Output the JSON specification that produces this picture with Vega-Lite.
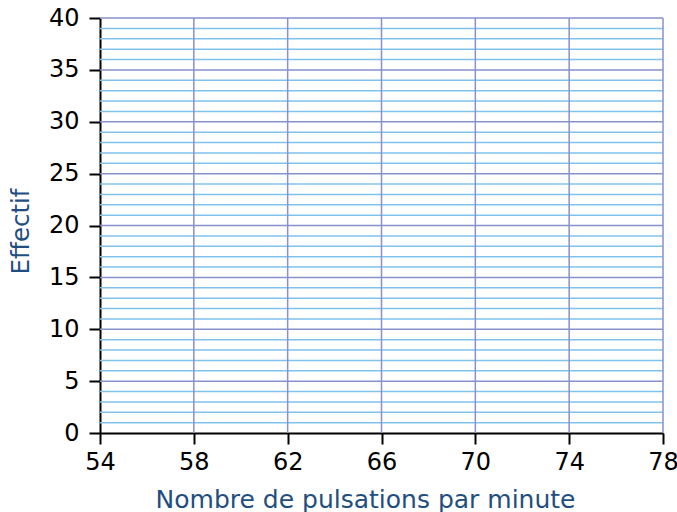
{
  "$schema": "https://vega.github.io/schema/vega-lite/v6.json",
  "width": 563,
  "height": 415,
  "autosize": "none",
  "padding": {"left": 100, "top": 18, "right": 14, "bottom": 79},
  "background": "white",
  "config": {
    "view": {"stroke": null},
    "font": "DejaVu Sans",
    "axis": {
      "labelFont": "DejaVu Sans",
      "labelFontSize": 24,
      "labelColor": "black",
      "labelFlush": false,
      "domainColor": "black",
      "domainWidth": 2,
      "tickColor": "black",
      "tickWidth": 2,
      "tickSize": 11,
      "grid": false,
      "titleFont": "DejaVu Sans",
      "titleFontWeight": "normal",
      "titleColor": "#1f4e80",
      "zindex": 1
    }
  },
  "layer": [
    {
      "data": {"values": [
        {"y": 1, "kind": "minor"}, {"y": 2, "kind": "minor"}, {"y": 3, "kind": "minor"}, {"y": 4, "kind": "minor"},
        {"y": 5, "kind": "major"},
        {"y": 6, "kind": "minor"}, {"y": 7, "kind": "minor"}, {"y": 8, "kind": "minor"}, {"y": 9, "kind": "minor"},
        {"y": 10, "kind": "major"},
        {"y": 11, "kind": "minor"}, {"y": 12, "kind": "minor"}, {"y": 13, "kind": "minor"}, {"y": 14, "kind": "minor"},
        {"y": 15, "kind": "major"},
        {"y": 16, "kind": "minor"}, {"y": 17, "kind": "minor"}, {"y": 18, "kind": "minor"}, {"y": 19, "kind": "minor"},
        {"y": 20, "kind": "major"},
        {"y": 21, "kind": "minor"}, {"y": 22, "kind": "minor"}, {"y": 23, "kind": "minor"}, {"y": 24, "kind": "minor"},
        {"y": 25, "kind": "major"},
        {"y": 26, "kind": "minor"}, {"y": 27, "kind": "minor"}, {"y": 28, "kind": "minor"}, {"y": 29, "kind": "minor"},
        {"y": 30, "kind": "major"},
        {"y": 31, "kind": "minor"}, {"y": 32, "kind": "minor"}, {"y": 33, "kind": "minor"}, {"y": 34, "kind": "minor"},
        {"y": 35, "kind": "major"},
        {"y": 36, "kind": "minor"}, {"y": 37, "kind": "minor"}, {"y": 38, "kind": "minor"}, {"y": 39, "kind": "minor"},
        {"y": 40, "kind": "major"}
      ]},
      "mark": {"type": "rule", "strokeWidth": 1.5},
      "encoding": {
        "y": {
          "field": "y",
          "type": "quantitative",
          "scale": {"domain": [0, 40], "nice": false, "zero": true},
          "axis": {
            "values": [0, 5, 10, 15, 20, 25, 30, 35, 40],
            "labelPadding": 10,
            "title": "Effectif",
            "titleFontSize": 24.5,
            "titleAngle": -90,
            "titleX": -72,
            "titleY": 213,
            "titleAnchor": "middle",
            "titleBaseline": "alphabetic",
            "titleAlign": "center"
          }
        },
        "x": {
          "datum": 54,
          "type": "quantitative",
          "scale": {"domain": [54, 78], "nice": false, "zero": false},
          "axis": {
            "values": [54, 58, 62, 66, 70, 74, 78],
            "labelPadding": 6,
            "title": "Nombre de pulsations par minute",
            "titleFontSize": 25,
            "titleX": 265,
            "titleY": 74,
            "titleAnchor": "middle",
            "titleAlign": "center",
            "titleBaseline": "alphabetic"
          }
        },
        "x2": {"datum": 78},
        "color": {
          "field": "kind",
          "type": "nominal",
          "scale": {"domain": ["minor", "major"], "range": ["#80c2ec", "#8891cb"]},
          "legend": null
        }
      }
    },
    {
      "data": {"values": [
        {"x": 58}, {"x": 62}, {"x": 66}, {"x": 70}, {"x": 74}, {"x": 78}
      ]},
      "mark": {"type": "rule", "strokeWidth": 1.5, "color": "#8891cb"},
      "encoding": {
        "x": {"field": "x", "type": "quantitative"},
        "y": {"datum": 0, "type": "quantitative"},
        "y2": {"datum": 40}
      }
    }
  ]
}
